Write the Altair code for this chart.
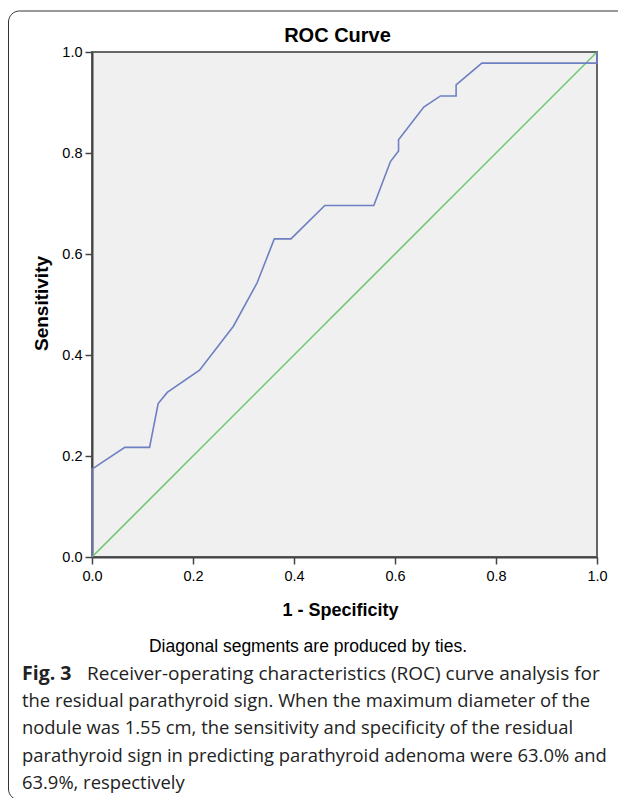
import altair as alt
import pandas as pd

# ---- data ----
fpr = [0.0, 0.0, 0.065, 0.114, 0.131, 0.149, 0.213, 0.280, 0.327, 0.361, 0.394, 0.461,
       0.558, 0.591, 0.607, 0.607, 0.657, 0.690, 0.721, 0.721, 0.772, 1.0, 1.0]
tpr = [0.0, 0.174, 0.217, 0.217, 0.304, 0.326, 0.370, 0.457, 0.543, 0.630, 0.630, 0.696,
       0.696, 0.783, 0.804, 0.826, 0.891, 0.913, 0.913, 0.935, 0.978, 0.978, 1.0]
ref_x = [0.0, 1.0]
ref_y = [0.0, 1.0]
tick_values = [0.0, 0.2, 0.4, 0.6, 0.8, 1.0]

title_text = "ROC Curve"
x_title = "1 - Specificity"
y_title = "Sensitivity"
note_text = "Diagonal segments are produced by ties."
cap_bold = "Fig. 3"
cap_first = "Receiver-operating characteristics (ROC) curve analysis for"
cap_lines = [
    "the residual parathyroid sign. When the maximum diameter of the",
    "nodule was 1.55 cm, the sensitivity and specificity of the residual",
    "parathyroid sign in predicting parathyroid adenoma were 63.0% and",
    "63.9%, respectively",
]

W = H = 505
FONT = "Liberation Sans"
CAP_FONT = "Open Sans"
CAP_SIZE = 18.4

roc_df = pd.DataFrame({"fpr": fpr, "tpr": tpr, "order": list(range(len(fpr)))})
ref_df = pd.DataFrame({"fpr": ref_x, "tpr": ref_y, "order": [0, 1]})
one = pd.DataFrame({"k": [0]})

xs = alt.Scale(domain=[0, 1], nice=False, zero=False)
ys = alt.Scale(domain=[0, 1], nice=False, zero=False)

x_axis = alt.Axis(values=tick_values, format=".1f", grid=False, title=x_title,
                  titleFont=FONT, titleFontSize=18, titleFontWeight="bold", titleColor="black",
                  titleX=248, titleY=58, titleBaseline="alphabetic", titleAlign="center",
                  labelFont=FONT, labelFontSize=14.5, labelColor="black",
                  labelBaseline="alphabetic", labelPadding=16, labelFlush=False,
                  tickSize=7, tickColor="#444", tickWidth=1.5,
                  domainColor="#444", domainWidth=2)
y_axis = alt.Axis(values=tick_values, format=".1f", grid=False, title=y_title,
                  titleFont=FONT, titleFontSize=19, titleFontWeight="bold", titleColor="black",
                  titleX=-45, titleY=251, titleAngle=270, titleBaseline="alphabetic",
                  titleAlign="center",
                  labelFont=FONT, labelFontSize=14.5, labelColor="black",
                  labelPadding=3, labelFlush=False,
                  tickSize=7, tickColor="#444", tickWidth=1.5,
                  domainColor="#444", domainWidth=2)

ref_line = alt.Chart(ref_df).mark_line(color="#6CC46C", strokeWidth=1.5).encode(
    x=alt.X("fpr:Q", scale=xs, axis=x_axis),
    y=alt.Y("tpr:Q", scale=ys, axis=y_axis),
    order="order:Q",
)
roc_line = alt.Chart(roc_df).mark_line(color="#6E7FC2", strokeWidth=1.6).encode(
    x=alt.X("fpr:Q", scale=xs),
    y=alt.Y("tpr:Q", scale=ys),
    order="order:Q",
)

frame = alt.Chart(one).mark_rect(fill="transparent", stroke="#333", strokeWidth=1,
                                 cornerRadius=11).encode(
    x=alt.value(-83.5), x2=alt.value(560), y=alt.value(-41), y2=alt.value(748))

title = alt.Chart(one).mark_text(text=title_text, font=FONT, fontSize=20, fontWeight="bold",
                                 color="black", align="center", baseline="alphabetic").encode(
    x=alt.value(245.5), y=alt.value(-10.5))

note = alt.Chart(one).mark_text(text=note_text, font=FONT, fontSize=17.5, color="black",
                                align="center", baseline="alphabetic").encode(
    x=alt.value(216), y=alt.value(600))

cap_b = alt.Chart(one).mark_text(text=cap_bold, font=CAP_FONT, fontSize=19.5, fontWeight="bold",
                                 color="#222", align="left", baseline="alphabetic").encode(
    x=alt.value(-70), y=alt.value(628))
cap_1 = alt.Chart(one).mark_text(text=cap_first, font=CAP_FONT, fontSize=19, color="#222",
                                 align="left", baseline="alphabetic").encode(
    x=alt.value(-5), y=alt.value(628))

cap_layers = []
for i, line in enumerate(cap_lines):
    cap_layers.append(
        alt.Chart(one).mark_text(text=line, font=CAP_FONT, fontSize=CAP_SIZE, color="#222",
                                 align="left", baseline="alphabetic").encode(
            x=alt.value(-70), y=alt.value(655.2 + 27.2 * i)))

chart = alt.layer(ref_line, roc_line, frame, title, note, cap_b, cap_1, *cap_layers).properties(
    width=W, height=H,
    padding={"left": 84, "top": 44, "right": 21, "bottom": 241},
    autosize=alt.AutoSizeParams(type="none"),
).configure_view(fill="#F0F0F0", stroke="#666", strokeWidth=2)

chart.save("out.html", embed_options={"renderer": "svg", "actions": False})
